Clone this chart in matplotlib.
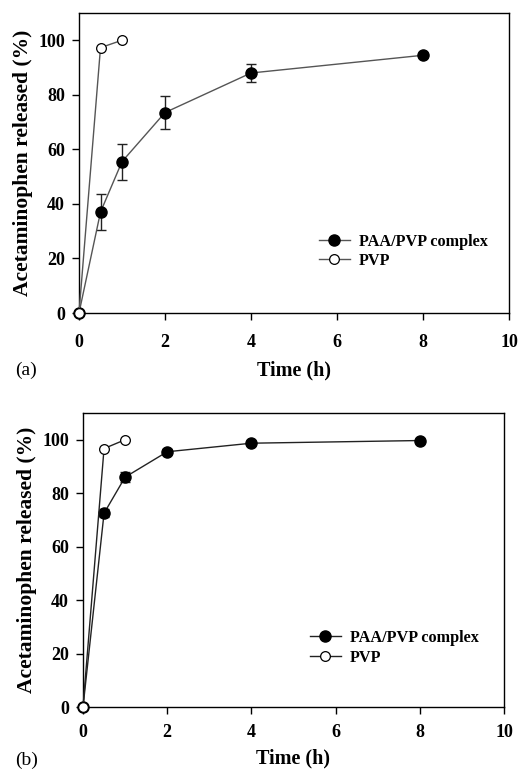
import matplotlib
matplotlib.use("Agg")
import matplotlib.pyplot as plt
from matplotlib.lines import Line2D

plt.rcParams['font.family'] = ['Liberation Serif', 'DejaVu Serif']
plt.rcParams['font.weight'] = 'bold'

# Panel (a)
a_complex_t = [0, 0.5, 1, 2, 4, 8]
a_complex_y = [0, 37.0, 55.5, 73.5, 88.0, 94.5]
a_complex_err = [0, 6.5, 6.6, 6.0, 3.3, 0.8]
a_pvp_t = [0, 0.5, 1]
a_pvp_y = [0, 97.3, 100.0]

# Panel (b)
b_complex_t = [0, 0.5, 1, 2, 4, 8]
b_complex_y = [0, 72.5, 86.0, 95.5, 98.7, 99.7]
b_complex_err = [0, 1.5, 2.0, 1.0, 0.8, 0.5]
b_pvp_t = [0, 0.5, 1]
b_pvp_y = [0, 96.7, 100.0]

xticks = [0, 2, 4, 6, 8, 10]
yticks = [0, 20, 40, 60, 80, 100]
labels = ["PAA/PVP complex", "PVP"]

W, H = 519, 771
fig = plt.figure(figsize=(W/100, H/100), dpi=100)

def px_axes(l, t, r, b):
    return fig.add_axes([l/W, 1 - b/H, (r-l)/W, (b-t)/H])

def draw(ax, ct, cy, ce, pt, py, lc, leg_xy, letter, letter_y, lsp, xpad, xlpad):
    ax.errorbar(ct, cy, yerr=ce, color=lc, lw=1.0, marker='o', ms=8,
                mfc='black', mec='black', ecolor='#222222', elinewidth=1.0,
                capsize=3.5, capthick=1.0, clip_on=False, zorder=3)
    ax.plot(pt, py, color=lc, lw=1.0, marker='o', ms=7, mfc='white',
            mec='black', mew=0.9, clip_on=False, zorder=4)
    ax.set_xlim(0, 10)
    ax.set_ylim(0, 110)
    ax.set_xticks(xticks)
    ax.set_yticks(yticks)
    ax.tick_params(direction='out', length=5, width=1, labelsize=13)
    ax.tick_params(axis='x', pad=xpad)
    ax.tick_params(axis='y', pad=5)
    for lab in ax.get_xticklabels() + ax.get_yticklabels():
        lab.set_fontweight('bold')
    for s in ax.spines.values():
        s.set_linewidth(1.0)
    ax.set_xlabel("Time (h)", fontsize=14.5, fontweight='bold', labelpad=xlpad)
    ax.set_ylabel("Acetaminophen released (%)", fontsize=15.5, fontweight='bold', labelpad=4)
    h = [Line2D([], [], color=lc, lw=1.0, marker='o', ms=8, mfc='black', mec='black'),
         Line2D([], [], color=lc, lw=1.0, marker='o', ms=7, mfc='white', mec='black', mew=0.9)]
    ax.legend(h, labels, loc='upper left', bbox_to_anchor=leg_xy, frameon=False,
              fontsize=11.7, handlelength=1.9, handletextpad=0.55, labelspacing=lsp,
              borderaxespad=0, borderpad=0)
    fig.text(15/W, 1 - letter_y/H, letter, fontsize=14, fontweight='normal',
             va='center', ha='left')

ax1 = px_axes(79, 13, 509, 313)
draw(ax1, a_complex_t, a_complex_y, a_complex_err, a_pvp_t, a_pvp_y,
     '#555555', (0.558, 0.263), "(a)", 370, 0.15, 10, 7)

ax2 = px_axes(83, 413, 504, 707)
draw(ax2, b_complex_t, b_complex_y, b_complex_err, b_pvp_t, b_pvp_y,
     '#222222', (0.539, 0.262), "(b)", 760, 0.25, 7, 5.5)

fig.savefig("out.png", dpi=100)
